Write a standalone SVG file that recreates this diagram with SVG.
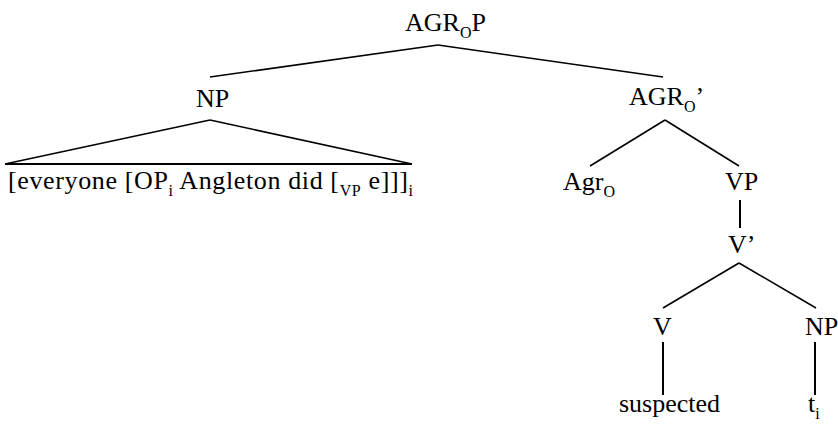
<svg xmlns="http://www.w3.org/2000/svg" width="838" height="429" viewBox="0 0 838 429">
<style>
text{font-family:"Liberation Serif","Times New Roman",serif;font-size:26px;fill:#000}
.s{font-size:16px}
line{stroke:#000;stroke-width:1.6;stroke-linecap:butt}
.v{stroke-width:2}
</style>
<rect width="838" height="429" fill="#fff"/>
<g id="connectors">
<line x1="438" y1="45" x2="210" y2="77"/>
<line x1="438" y1="45" x2="663" y2="77"/>
<line x1="210" y1="120" x2="5" y2="164"/>
<line x1="210" y1="120" x2="412" y2="164"/>
<line class="v" x1="5" y1="164" x2="412" y2="164"/>
<line x1="665" y1="120" x2="590" y2="166"/>
<line x1="665" y1="120" x2="739" y2="166"/>
<line class="v" x1="740" y1="200" x2="740" y2="228"/>
<line x1="739" y1="263" x2="663" y2="308"/>
<line x1="739" y1="263" x2="816" y2="308"/>
<line class="v" x1="663" y1="342" x2="663" y2="395"/>
<line class="v" x1="815" y1="342" x2="815" y2="395"/>
</g>
<g id="agrop"><text x="405" y="31">AGR<tspan class="s" dy="7">O</tspan><tspan dy="-7">P</tspan></text></g>
<g id="np1"><text x="196" y="107">NP</text></g>
<g id="np1-yield"><text x="8" y="189" textLength="405" lengthAdjust="spacing">[everyone [OP<tspan class="s" dy="7">i</tspan><tspan dy="-7"> Angleton did [</tspan><tspan class="s" dy="7">VP</tspan><tspan dy="-7"> e]]]</tspan><tspan class="s" dy="7">i</tspan></text></g>
<g id="agrobar"><text x="629" y="105">AGR<tspan class="s" dy="7">O</tspan><tspan dy="-7">’</tspan></text></g>
<g id="agro"><text x="563" y="190">Agr<tspan class="s" dy="7">O</tspan></text></g>
<g id="vp"><text x="725" y="190">VP</text></g>
<g id="vbar"><text x="728" y="253">V’</text></g>
<g id="v"><text x="653" y="335">V</text></g>
<g id="np2"><text x="805" y="335">NP</text></g>
<g id="suspected"><text x="619" y="412">suspected</text></g>
<g id="trace"><text x="808" y="412">t<tspan class="s" dy="7">i</tspan></text></g>
</svg>
